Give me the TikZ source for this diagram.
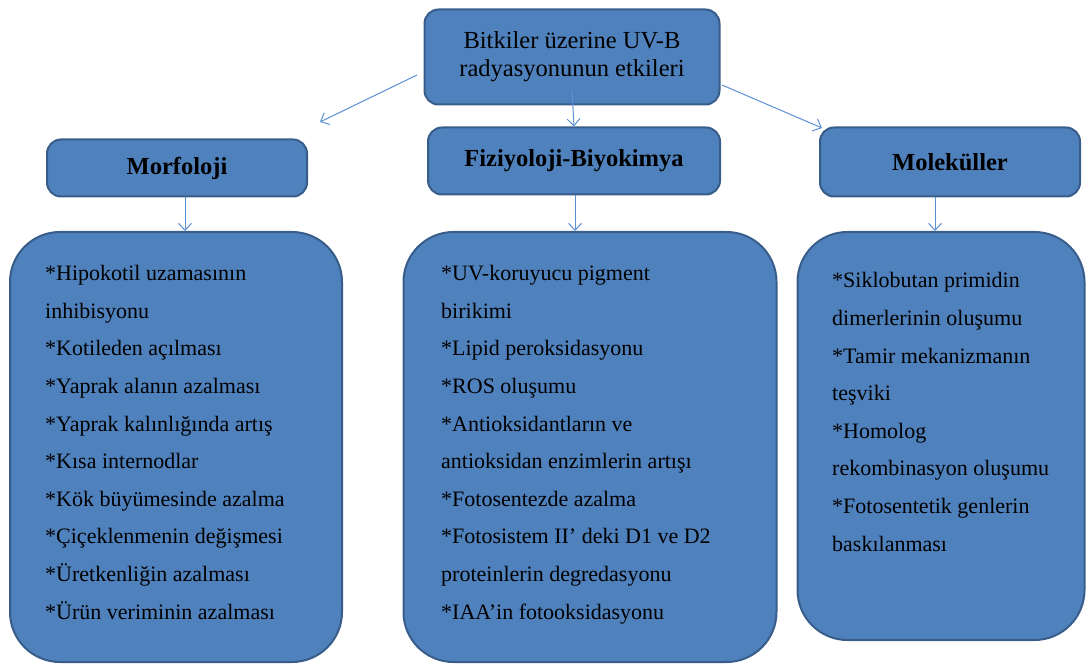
\documentclass[tikz,border=0pt]{standalone}
\usepackage{fontspec}
\setmainfont{Liberation Serif}
\usetikzlibrary{arrows.meta,positioning}
\definecolor{boxblue}{HTML}{4F81BD}
\definecolor{boxline}{HTML}{385D8A}
\definecolor{arrowblue}{HTML}{5B8FD4}

\begin{document}
\begin{tikzpicture}[x=1pt,y=-1pt]
        \useasboundingbox (0,0) rectangle (1088,666);

        % boxes
        \begin{scope}[every node/.style={draw=boxline,line width=2pt,fill=boxblue,rounded corners=14pt,align=center}]
            \node[minimum width=295pt,minimum height=95pt,font=\fontsize{24.5}{28}\selectfont] (top) at (572,57) {Bitkiler üzerine UV-B\\radyasyonunun etkileri};
            \node[minimum width=260pt,minimum height=57pt,font=\fontsize{24.5}{28}\selectfont\bfseries] (mor) at (177,168) {Morfoloji};
            \node[minimum width=292pt,minimum height=67pt,font=\fontsize{24.5}{28}\selectfont\bfseries] (fiz) at (574,161) {Fiziyoloji-Biyokimya};
            \node[minimum width=260pt,minimum height=69pt,font=\fontsize{24.5}{28}\selectfont\bfseries] (mol) at (950,162) {Moleküller};
        \end{scope}

        \begin{scope}[every node/.style={draw=boxline,line width=2pt,fill=boxblue,rounded corners=50pt}]
            \node[minimum width=332pt,minimum height=430pt] (morbox) at (176,447) {};
            \node[minimum width=373pt,minimum height=430pt] (fizbox) at (590,447) {};
            \node[minimum width=287pt,minimum height=408pt] (molbox) at (941,436) {};
        \end{scope}

        % lists (placed at the baseline of their last line)
        \begin{scope}[every node/.style={anchor=base west,align=left,inner sep=0pt,font=\fontsize{22}{37.6}\selectfont}]
            \node (morlist) at (45,619) {*Hipokotil uzamasının\\inhibisyonu\\*Kotileden açılması\\*Yaprak alanın azalması\\*Yaprak kalınlığında artış\\*Kısa internodlar\\*Kök büyümesinde azalma\\*Çiçeklenmenin değişmesi\\*Üretkenliğin azalması\\*Ürün veriminin azalması};
            \node (fizlist) at (441,619) {*UV-koruyucu pigment\\birikimi\\*Lipid peroksidasyonu\\*ROS oluşumu\\*Antioksidantların ve\\antioksidan enzimlerin artışı\\*Fotosentezde azalma\\*Fotosistem II’ deki D1 ve D2\\proteinlerin degredasyonu\\*IAA’in fotooksidasyonu};
            \node (mollist) at (832,551) {*Siklobutan primidin\\dimerlerinin oluşumu\\*Tamir mekanizmanın\\teşviki\\*Homolog\\rekombinasyon oluşumu\\*Fotosentetik genlerin\\baskılanması};
        \end{scope}

        % arrows
        \coordinate (tl) at (417,75);
        \coordinate (ml) at (320,122);
        \coordinate (tc) at (572,90);
        \coordinate (tr) at (722,85);
        \coordinate (mr) at (822,128);
        \coordinate (md) at (185,197);
        \coordinate (fd) at (575,195);
        \coordinate (ld) at (935,197);

        \begin{scope}[>={Straight Barb[length=7pt,width=13pt]},
                    every edge/.style={draw=arrowblue,line width=1pt}]
            \path [->] (tl) edge (ml);
            \path [->] (tc) edge (fiz.north);
            \path [->] (tr) edge (mr);

            \path [->] (md) edge (md |- morbox.north);
            \path [->] (fd) edge (fd |- fizbox.north);
            \path [->] (ld) edge (ld |- molbox.north);
        \end{scope}
    \end{tikzpicture}
\end{document}
